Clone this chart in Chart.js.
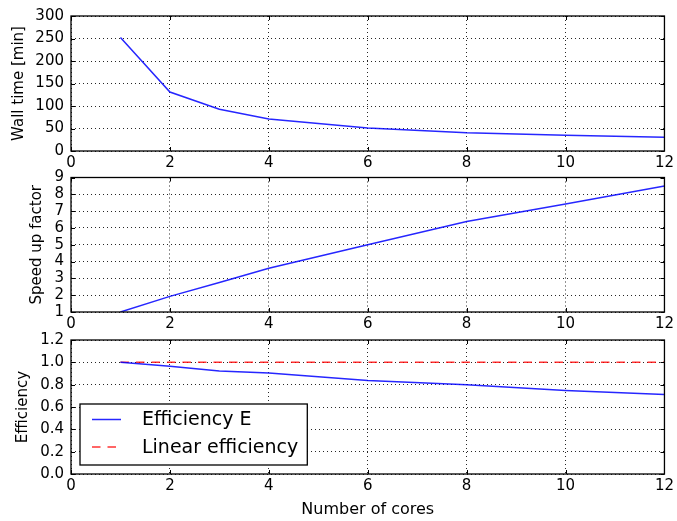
<!DOCTYPE html>
<html><head><meta charset="utf-8">
<script src="https://cdn.jsdelivr.net/npm/chart.js@4/dist/chart.umd.min.js"></script>
<style>
html,body{margin:0;padding:0;background:#fff;}
#wrap{position:relative;width:677px;height:521px;background:#fff;}
canvas{position:absolute;left:0;top:0;}
</style></head><body>
<div id="wrap">
<canvas id="c1" width="677" height="521"></canvas>
<canvas id="c2" width="677" height="521"></canvas>
<canvas id="c3" width="677" height="521"></canvas>
</div>
<script>
// ---- data ----
const cores = [1, 2, 3, 4, 6, 8, 10, 12];
const wallTime = [252, 131, 93, 71, 51, 40.5, 35, 30.3];
const speedup = [1, 1.93, 2.76, 3.6, 5.0, 6.38, 7.43, 8.5];
const efficiency = [1.0, 0.965, 0.922, 0.905, 0.838, 0.80, 0.748, 0.712];
const linearEfficiency = [1, 1, 1, 1, 1, 1, 1, 1];
const xTicks = [0, 2, 4, 6, 8, 10, 12];
const wallTicks = [0, 50, 100, 150, 200, 250, 300];
const speedTicks = [1, 2, 3, 4, 5, 6, 7, 8, 9];
const effTicks = [0.0, 0.2, 0.4, 0.6, 0.8, 1.0, 1.2];

const labels = {
  wall: 'Wall time [min]',
  speed: 'Speed up factor',
  eff: 'Efficiency',
  x: 'Number of cores',
  effSeries: 'Efficiency E',
  linSeries: 'Linear efficiency'
};

Chart.defaults.font.family = "'DejaVu Sans', sans-serif";
Chart.defaults.color = '#000';

const BLUE = 'rgba(0,0,255,0.85)';
const RED = 'rgba(255,0,0,0.8)';

function pts(xs, ys) { return xs.map((x, i) => ({x: x, y: ys[i]})); }

// frame + inward tick marks
const framePlugin = {
  id: 'frame',
  afterDatasetsDraw(chart) {
    const {ctx, chartArea: a, scales} = chart;
    ctx.save();
    ctx.strokeStyle = '#000';
    ctx.lineWidth = 1;
    ctx.setLineDash([]);
    ctx.beginPath();
    scales.x.ticks.forEach(t => {
      const px = Math.round(scales.x.getPixelForValue(t.value)) + 0.5;
      ctx.moveTo(px, a.bottom); ctx.lineTo(px, a.bottom - 4);
      ctx.moveTo(px, a.top); ctx.lineTo(px, a.top + 4);
    });
    scales.y.ticks.forEach(t => {
      const py = Math.round(scales.y.getPixelForValue(t.value)) + 0.5;
      ctx.moveTo(a.left, py); ctx.lineTo(a.left + 4, py);
      ctx.moveTo(a.right, py); ctx.lineTo(a.right - 4, py);
    });
    ctx.stroke();
    ctx.lineWidth = 1.3;
    ctx.strokeRect(a.left, a.top, a.right - a.left, a.bottom - a.top);
    ctx.restore();
  }
};

// boxed legend inside the plot area (lower left)
const boxLegendPlugin = {
  id: 'boxLegend',
  afterDraw(chart, args, opts) {
    if (!opts || !opts.show) return;
    const {ctx, chartArea: a} = chart;
    const fontSize = 19;
    ctx.save();
    ctx.font = fontSize + "px 'DejaVu Sans', sans-serif";
    const ds = chart.data.datasets;
    let maxW = 0;
    ds.forEach(d => { maxW = Math.max(maxW, ctx.measureText(d.label).width); });
    const left = a.left + 9;
    const boxH = 61;
    const bottom = a.bottom - 9;
    const top = bottom - boxH;
    const textX = left + 62;
    const boxW = 62 + maxW + 9;
    ctx.fillStyle = '#fff';
    ctx.fillRect(left, top, boxW, boxH);
    ctx.strokeStyle = '#000';
    ctx.lineWidth = 1.3;
    ctx.strokeRect(left, top, boxW, boxH);
    ds.forEach((d, i) => {
      const y = top + 15.5 + i * 27.5;
      ctx.strokeStyle = d.borderColor;
      ctx.lineWidth = d.borderWidth;
      ctx.setLineDash(d.borderDash || []);
      ctx.beginPath();
      ctx.moveTo(left + 12, y); ctx.lineTo(left + 41, y);
      ctx.stroke();
      ctx.setLineDash([]);
      ctx.fillStyle = '#000';
      ctx.textBaseline = 'middle';
      ctx.textAlign = 'left';
      ctx.fillText(d.label, textX, y + 1);
    });
    ctx.restore();
  }
};

function makePanel(id, cfg) {
  const tickFont = {size: 15};
  return new Chart(document.getElementById(id), {
    type: 'line',
    data: {datasets: cfg.datasets},
    plugins: [framePlugin, boxLegendPlugin],
    options: {
      responsive: false,
      animation: false,
      devicePixelRatio: 1,
      layout: {padding: {left: cfg.padLeft, top: cfg.padTop, right: 11, bottom: cfg.padBottom}},
      plugins: {
        legend: {display: false},
        tooltip: {enabled: false},
        boxLegend: {show: !!cfg.legend}
      },
      elements: {point: {radius: 0}, line: {tension: 0}},
      scales: {
        x: {
          type: 'linear', min: 0, max: 12,
          afterBuildTicks: s => { s.ticks = xTicks.map(v => ({value: v})); },
          afterFit: s => { s.height = cfg.xHeight; },
          ticks: {font: tickFont, padding: 3, color: '#000', maxRotation: 0, autoSkip: false},
          grid: {color: 'rgba(0,0,0,0.85)', lineWidth: 1, drawTicks: false},
          border: {display: false, dash: [1, 3]},
          title: cfg.xTitle ? {display: true, text: cfg.xTitle, font: {size: 16}, color: '#000', padding: 0} : {display: false}
        },
        y: {
          type: 'linear', min: cfg.yTicks[0], max: cfg.yTicks[cfg.yTicks.length - 1],
          afterBuildTicks: s => { s.ticks = cfg.yTicks.map(v => ({value: v})); },
          afterFit: s => { s.width = 71 - cfg.padLeft; },
          ticks: {font: tickFont, padding: 7, color: '#000', callback: cfg.yFmt, autoSkip: false},
          grid: {color: 'rgba(0,0,0,0.85)', lineWidth: 1, drawTicks: false},
          border: {display: false, dash: [1, 3]},
          title: {display: true, text: cfg.yTitle, font: {size: 15}, color: '#000', padding: 0}
        }
      }
    }
  });
}

makePanel('c1', {
  padLeft: 10, padTop: 16, padBottom: 350, xHeight: 20,
  yTicks: wallTicks, yTitle: labels.wall, yFmt: v => String(v),
  datasets: [{label: labels.wall, data: pts(cores, wallTime), borderColor: BLUE, borderWidth: 1.5, fill: false}]
});

makePanel('c2', {
  padLeft: 28.5, padTop: 177.5, padBottom: 189, xHeight: 20,
  yTicks: speedTicks, yTitle: labels.speed, yFmt: v => String(v),
  datasets: [{label: labels.speed, data: pts(cores, speedup), borderColor: BLUE, borderWidth: 1.5, fill: false}]
});

makePanel('c3', {
  padLeft: 14, padTop: 340, padBottom: 2, xHeight: 45,
  yTicks: effTicks, yTitle: labels.eff, yFmt: v => Number(v).toFixed(1),
  xTitle: labels.x, legend: true,
  datasets: [
    {label: labels.effSeries, data: pts(cores, efficiency), borderColor: BLUE, borderWidth: 1.5, fill: false},
    {label: labels.linSeries, data: pts(cores, linearEfficiency), borderColor: RED, borderWidth: 1.5, borderDash: [8.5, 7], fill: false}
  ]
});
</script>
</body></html>
